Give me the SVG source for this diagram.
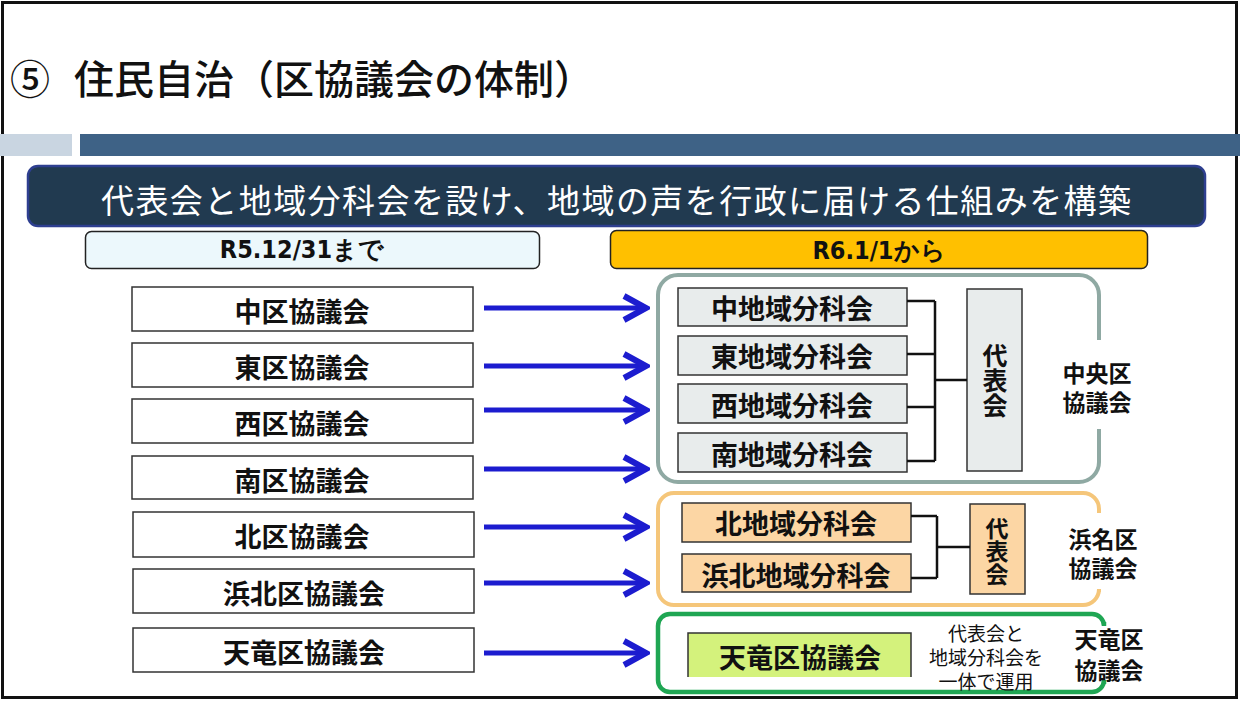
<svg xmlns="http://www.w3.org/2000/svg" width="1240" height="703" viewBox="0 0 1240 703">
<defs>
<style>
text{font-family:"Noto Sans CJK JP","Noto Sans",sans-serif;dominant-baseline:central;text-anchor:middle;fill:#111}
.lbl{font-size:27px;font-weight:700}
.vert{writing-mode:vertical-rl;font-weight:700}
.old{fill:#fff;stroke:#333;stroke-width:1.5}
.sub{fill:#e8ecec;stroke:#333;stroke-width:1.5}
.peach{fill:#fcd6a4;stroke:#333;stroke-width:1.5}
.tree{fill:none;stroke:#111;stroke-width:2.5}
.arr{stroke:#1c1ccf;stroke-width:5;fill:none;marker-end:url(#chev)}
.grp{font-size:23px;font-weight:700}
.cond{font-family:"DejaVu Sans Condensed","DejaVu Sans",sans-serif;font-weight:700;font-size:25px}
.note{font-size:19px}
</style>
<marker id="chev" viewBox="0 0 30 30" refX="26" refY="15" markerWidth="30" markerHeight="30" markerUnits="userSpaceOnUse" orient="auto">
<path d="M4,3 L26,15 L4,27" fill="none" stroke="#1c1ccf" stroke-width="6"/>
</marker>
</defs>
<rect x="0" y="0" width="1240" height="703" fill="#fff"/>
<rect x="2.5" y="2.5" width="1234" height="695" fill="none" stroke="#111" stroke-width="3"/>

<g id="title">
<text x="10" y="77" style="text-anchor:start;font-size:40px;font-weight:500">⑤</text>
<text x="74" y="77" style="text-anchor:start;font-size:40px;font-weight:500">住民自治（区協議会の体制）</text>
</g>
<g id="bar">
<rect x="0" y="134" width="72" height="22" fill="#c9d5e1"/>
<rect x="80" y="134" width="1160" height="22" fill="#3e6286"/>
</g>
<g id="banner">
<rect x="28" y="166" width="1177" height="60" rx="10" fill="#213a50" stroke="#2e3f90" stroke-width="2.5"/>
<text x="616" y="199" style="fill:#fff;font-size:33px" textLength="1030" lengthAdjust="spacing">代表会と地域分科会を設け、地域の声を行政に届ける仕組みを構築</text>
</g>
<g id="hdr-old">
<rect x="85.5" y="231.5" width="454" height="37" rx="6" fill="#ecf8fc" stroke="#222" stroke-width="1.5"/>
<text class="cond" x="302" y="249">R5.12/31まで</text>
</g>
<g id="hdr-new">
<rect x="610.5" y="230.5" width="537" height="38" rx="6" fill="#ffc000" stroke="#222" stroke-width="1.5"/>
<text class="cond" x="879" y="250">R6.1/1から</text>
</g>

<g id="old-naka"><rect class="old" x="132" y="287" width="341" height="44"/><text class="lbl" x="302" y="310">中区協議会</text></g>
<g id="old-higashi"><rect class="old" x="132" y="343" width="341" height="44"/><text class="lbl" x="302" y="366">東区協議会</text></g>
<g id="old-nishi"><rect class="old" x="132" y="399" width="341" height="44"/><text class="lbl" x="302" y="422">西区協議会</text></g>
<g id="old-minami"><rect class="old" x="132" y="456" width="341" height="43"/><text class="lbl" x="302" y="479">南区協議会</text></g>
<g id="old-kita"><rect class="old" x="133" y="512" width="341" height="45"/><text class="lbl" x="302" y="535">北区協議会</text></g>
<g id="old-hamakita"><rect class="old" x="133" y="569" width="341" height="44"/><text class="lbl" x="304" y="592">浜北区協議会</text></g>
<g id="old-tenryu"><rect class="old" x="133" y="628" width="341" height="44"/><text class="lbl" x="304" y="651">天竜区協議会</text></g>

<g id="chuo-group">
<path d="M1099,340 V295 A20,20 0 0 0 1079,275 H678 A20,20 0 0 0 658,295 V462 A20,20 0 0 0 678,482 H1079 A20,20 0 0 0 1099,462 V429" fill="none" stroke="#8fa9a3" stroke-width="4"/>
<text class="grp" x="1097" y="372">中央区<tspan x="1097" dy="29">協議会</tspan></text>
</g>
<g id="sub-naka"><rect class="sub" x="678" y="288" width="229" height="38"/><text class="lbl" x="792" y="307">中地域分科会</text></g>
<g id="sub-higashi"><rect class="sub" x="678" y="336" width="229" height="39"/><text class="lbl" x="792" y="355">東地域分科会</text></g>
<g id="sub-nishi"><rect class="sub" x="678" y="384" width="229" height="39"/><text class="lbl" x="792" y="404">西地域分科会</text></g>
<g id="sub-minami"><rect class="sub" x="678" y="433" width="229" height="39"/><text class="lbl" x="792" y="453">南地域分科会</text></g>
<g id="daihyo-chuo"><rect class="sub" x="967" y="289" width="55" height="182"/>
<text class="vert" style="font-size:25px" x="995" y="380">代表会</text></g>

<g id="hamana-group">
<path d="M1099,513 V509 A16,16 0 0 0 1083,493 H674 A16,16 0 0 0 658,509 V589 A16,16 0 0 0 674,605 H1083 A16,16 0 0 0 1099,589 V592" fill="none" stroke="#f5c67a" stroke-width="4"/>
<text class="grp" x="1103" y="538">浜名区<tspan x="1103" dy="29">協議会</tspan></text>
</g>
<g id="sub-kita"><rect class="peach" x="682" y="503" width="229" height="39"/><text class="lbl" x="796" y="522">北地域分科会</text></g>
<g id="sub-hamakita"><rect class="peach" x="682" y="554" width="229" height="38"/><text class="lbl" x="796" y="574">浜北地域分科会</text></g>
<g id="daihyo-hamana"><rect class="peach" x="970" y="504" width="55" height="90"/>
<text class="vert" style="font-size:23px" x="997" y="551">代表会</text></g>

<g id="tenryu-group">
<path d="M1104,622 V626 A12,12 0 0 0 1092,614 H670 A12,12 0 0 0 658,626 V680 A12,12 0 0 0 670,692 H1092 A12,12 0 0 0 1104,680 V684" fill="none" stroke="#1fa653" stroke-width="4.5"/>
<text class="grp" x="1109" y="638">天竜区<tspan x="1109" dy="31">協議会</tspan></text>
</g>
<g id="tenryu-new">
<rect x="688" y="633" width="223" height="44" fill="#d4f27c"/>
<path d="M688,677 V633 H911 V677" fill="none" stroke="#333" stroke-width="1.5"/>
<text class="lbl" x="800" y="656">天竜区協議会</text>
</g>
<g id="tenryu-note">
<text class="note" x="986" y="632">代表会と<tspan x="986" dy="24">地域分科会を</tspan><tspan x="986" dy="24">一体で運用</tspan></text>
</g>

<g id="connectors">
<line class="arr" x1="484" y1="308" x2="646" y2="308"/>
<line class="arr" x1="484" y1="366" x2="646" y2="366"/>
<line class="arr" x1="484" y1="410" x2="646" y2="410"/>
<line class="arr" x1="484" y1="469" x2="646" y2="469"/>
<line class="arr" x1="484" y1="527" x2="646" y2="527"/>
<line class="arr" x1="484" y1="583" x2="646" y2="583"/>
<line class="arr" x1="484" y1="653" x2="646" y2="653"/>
<path class="tree" d="M907,301 H935 M907,354 H935 M907,407 H935 M907,461 H935 M935,301 V461 M935,380 H967"/>
<path class="tree" d="M911,516 H937 M911,578 H937 M937,516 V578 M937,547 H970"/>
</g>
</svg>
